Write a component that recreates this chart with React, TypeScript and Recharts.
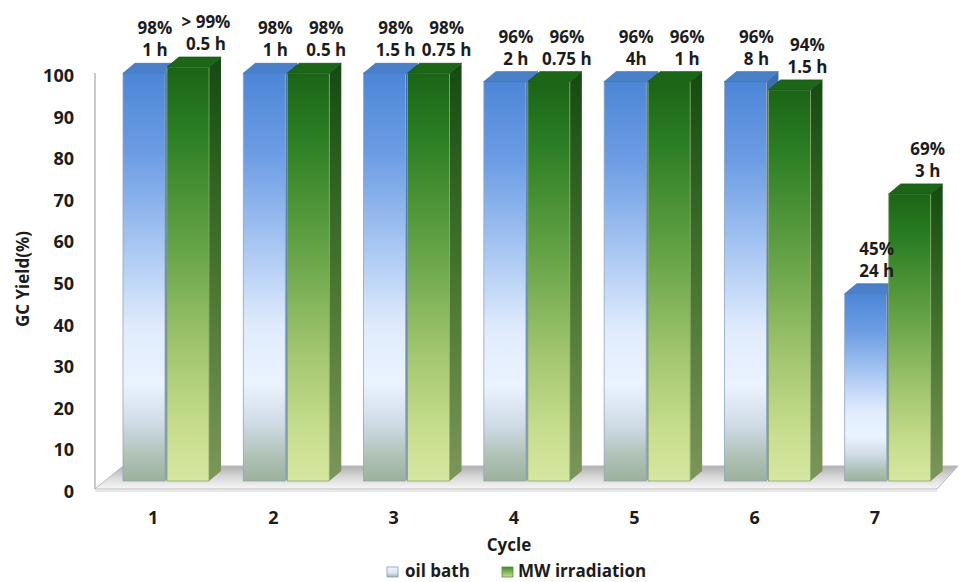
import React from 'react';
import { BarChart, Bar, XAxis, YAxis, LabelList } from 'recharts';

const cycles = ['1', '2', '3', '4', '5', '6', '7'];
const oilBathYield = [98, 98, 98, 96, 96, 96, 45];
const mwYield = [99.5, 98, 98, 96, 96, 94, 69];
const oilBathTime = ['1 h', '1 h', '1.5 h', '2 h', '4h', '8 h', '24 h'];
const mwTime = ['0.5 h', '0.5 h', '0.75 h', '0.75 h', '1 h', '1.5 h', '3 h'];
const yTicks = [0, 10, 20, 30, 40, 50, 60, 70, 80, 90, 100];

const data = cycles.map((cycle, i) => ({
  cycle,
  oil: oilBathYield[i],
  mw: mwYield[i],
}));

const FONT = '"Open Sans", "Noto Sans", sans-serif';
const INK = '#1c1c1c';

// fake 3D depth of each bar and how far the bars sit above the axis baseline
const DX = 12;
const DY = 10;
const LIFT = 8;

const pctText = (v: number) => (v > 99 ? '> 99%' : `${v}%`);

function make3DBar(kind: 'oil' | 'mw') {
  return (props: any) => {
    const { x, y, width, height } = props;
    if (height == null || height <= 0) return null;
    const top = y - LIFT;
    const bottom = y + height - LIFT;
    const r = x + width;
    return (
      <g>
        <polygon
          points={`${r},${top} ${r + DX},${top - DY} ${r + DX},${bottom - DY} ${r},${bottom}`}
          fill={`url(#side-${kind})`}
        />
        <rect
          x={x}
          y={top}
          width={width}
          height={bottom - top}
          fill={`url(#front-${kind})`}
          stroke={kind === 'oil' ? '#8ea6bf' : '#8aa86a'}
          strokeWidth={0.8}
        />
        <polygon
          points={`${x},${top} ${x + DX},${top - DY} ${r + DX},${top - DY} ${r},${top}`}
          fill={kind === 'oil' ? '#4a80c8' : '#1c6618'}
          stroke={kind === 'oil' ? '#3f72b8' : '#16551a'}
          strokeWidth={0.8}
        />
      </g>
    );
  };
}

function makeLabel(times: string[], shift: number) {
  return (p: any) => {
    const vb = p.viewBox || p;
    const x = vb.x ?? p.x;
    const y = vb.y ?? p.y;
    const width = vb.width ?? p.width;
    const idx = p.index;
    const cx = x + width / 2 + shift;
    const top = y - LIFT;
    const style = { fontFamily: FONT, fontWeight: 700, fontSize: 17, fill: INK };
    return (
      <g>
        <text x={cx} y={top - 39} textAnchor="middle" style={style}>
          {pctText(Number(p.value))}
        </text>
        <text x={cx} y={top - 17} textAnchor="middle" style={style}>
          {idx != null ? times[idx] : ''}
        </text>
      </g>
    );
  };
}

const YTick = (p: any) => (
  <text
    x={p.x}
    y={p.y + 9}
    textAnchor="end"
    style={{ fontFamily: FONT, fontWeight: 700, fontSize: 18, fill: INK }}
  >
    {p.payload.value}
  </text>
);

const XTick = (p: any) => (
  <text
    x={p.x - 13}
    y={p.y + 35}
    textAnchor="middle"
    style={{ fontFamily: FONT, fontWeight: 700, fontSize: 18, fill: INK }}
  >
    {p.payload.value}
  </text>
);

function Floor() {
  return (
    <svg width={960} height={582} style={{ position: 'absolute', left: 0, top: 0 }}>
      <defs>
        <linearGradient id="floor" x1="0" y1="0" x2="0" y2="1">
          <stop offset="0" stopColor="#b0b0b0" />
          <stop offset="0.45" stopColor="#d6d6d6" />
          <stop offset="1" stopColor="#f7f7f7" />
        </linearGradient>
      </defs>
      <polygon
        points="95,489 123,466 958,466 937,489"
        fill="url(#floor)"
        stroke="#b9b9b9"
        strokeWidth={1}
      />
      <line x1={95} y1={491} x2={937} y2={491} stroke="#d0d0d0" strokeWidth={1} />
    </svg>
  );
}

function LegendRow() {
  const text = { fontFamily: FONT, fontWeight: 700, fontSize: 17, fill: INK };
  return (
    <svg width={960} height={582} style={{ position: 'absolute', left: 0, top: 0, pointerEvents: 'none' }}>
      <defs>
        <linearGradient id="lg-oil" x1="0" y1="0" x2="0" y2="1">
          <stop offset="0" stopColor="#f2f7ff" />
          <stop offset="0.6" stopColor="#d8e6f8" />
          <stop offset="1" stopColor="#9fb3a4" />
        </linearGradient>
        <linearGradient id="lg-mw" x1="0" y1="0" x2="0" y2="1">
          <stop offset="0" stopColor="#3f8a2e" />
          <stop offset="0.6" stopColor="#8fbe62" />
          <stop offset="1" stopColor="#c9df92" />
        </linearGradient>
      </defs>
      <rect x={387} y={567} width={11} height={10} fill="url(#lg-oil)" stroke="#8a9bb0" strokeWidth={0.8} />
      <text x={405} y={577} style={text}>oil bath</text>
      <rect x={502} y={567} width={11} height={10} fill="url(#lg-mw)" stroke="#5f8a45" strokeWidth={0.8} />
      <text x={518} y={577} style={text}>MW irradiation</text>
    </svg>
  );
}

export default function App() {
  return (
    <div style={{ position: 'absolute', left: 0, top: 0, width: 960, height: 582, background: '#ffffff', overflow: 'hidden' }}>
      <Floor />
      <div style={{ position: 'absolute', left: 0, top: 0 }}>
        <BarChart
          width={960}
          height={582}
          data={data}
          margin={{ top: 73, right: 12, left: 0, bottom: 0 }}
          barSize={42}
          barGap={2}
          style={{ fontFamily: FONT }}
        >
          <defs>
            <linearGradient id="front-oil" x1="0" y1="0" x2="0" y2="1">
              <stop offset="0" stopColor="#4d86d7" />
              <stop offset="0.2" stopColor="#6c9de4" />
              <stop offset="0.42" stopColor="#a7c6f2" />
              <stop offset="0.62" stopColor="#dfebfc" />
              <stop offset="0.76" stopColor="#ebf3ff" />
              <stop offset="0.86" stopColor="#cfdbe6" />
              <stop offset="0.94" stopColor="#afc1b6" />
              <stop offset="1" stopColor="#9bb29c" />
            </linearGradient>
            <linearGradient id="side-oil" x1="0" y1="0" x2="0" y2="1">
              <stop offset="0" stopColor="#3a6cb0" />
              <stop offset="1" stopColor="#8aa0b4" />
            </linearGradient>
            <linearGradient id="front-mw" x1="0" y1="0" x2="0" y2="1">
              <stop offset="0" stopColor="#1b6417" />
              <stop offset="0.15" stopColor="#2a7d22" />
              <stop offset="0.45" stopColor="#69a549" />
              <stop offset="0.7" stopColor="#a6c872" />
              <stop offset="0.88" stopColor="#c8de8e" />
              <stop offset="1" stopColor="#d6e7a1" />
            </linearGradient>
            <linearGradient id="side-mw" x1="0" y1="0" x2="0" y2="1">
              <stop offset="0" stopColor="#154a11" />
              <stop offset="0.5" stopColor="#46742f" />
              <stop offset="1" stopColor="#7c9659" />
            </linearGradient>
          </defs>
          <XAxis
            dataKey="cycle"
            height={93}
            axisLine={false}
            tickLine={false}
            tickSize={0}
            tickMargin={0}
            padding={{ left: 11, right: 0 }}
            tick={<XTick />}
            interval={0}
            label={{
              content: () => (
                <text
                  x={509}
                  y={551}
                  textAnchor="middle"
                  style={{ fontFamily: FONT, fontWeight: 700, fontSize: 17, fill: INK }}
                >
                  Cycle
                </text>
              ),
            }}
          />
          <YAxis
            width={95}
            domain={[0, 100]}
            ticks={yTicks}
            interval={0}
            axisLine={{ stroke: '#a6a6a6', strokeWidth: 1.2 }}
            tickLine={false}
            tickSize={0}
            tickMargin={21}
            tick={<YTick />}
            label={{
              content: () => (
                <text
                  x={22}
                  y={279}
                  transform="rotate(-90, 22, 279)"
                  textAnchor="middle"
                  dominantBaseline="central"
                  style={{ fontFamily: FONT, fontWeight: 700, fontSize: 17, fill: INK }}
                >
                  GC Yield(%)
                </text>
              ),
            }}
          />
          <Bar dataKey="oil" name="oil bath" shape={make3DBar('oil')} isAnimationActive={false}>
            <LabelList dataKey="oil" content={makeLabel(oilBathTime, 11)} />
          </Bar>
          <Bar dataKey="mw" name="MW irradiation" shape={make3DBar('mw')} isAnimationActive={false}>
            <LabelList dataKey="mw" content={makeLabel(mwTime, 18)} />
          </Bar>
        </BarChart>
      </div>
      <LegendRow />
    </div>
  );
}
